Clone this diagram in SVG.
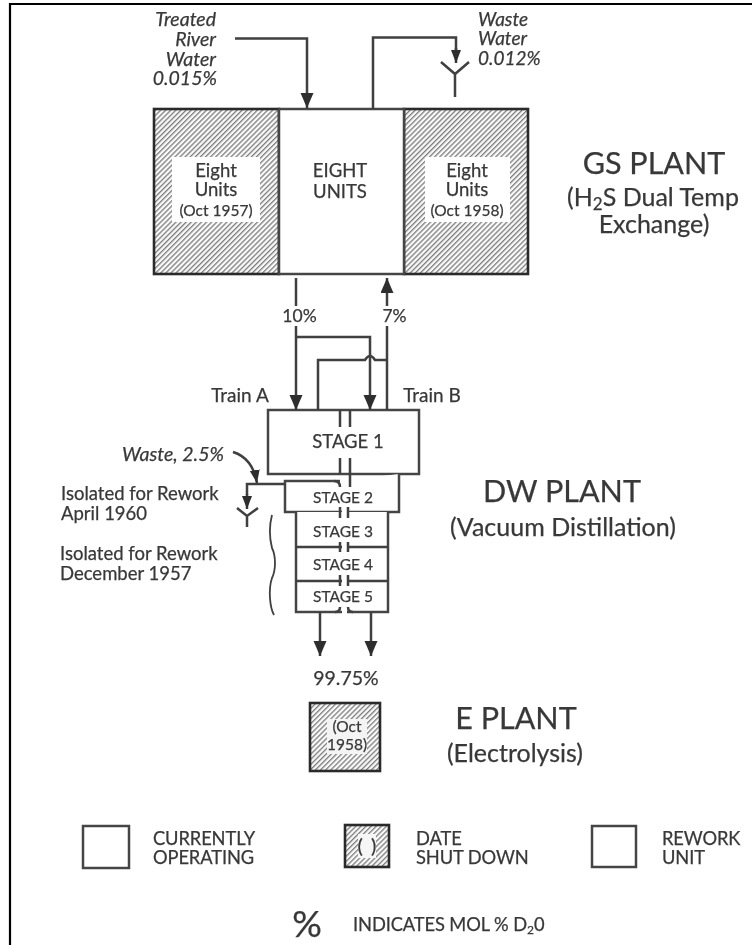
<svg xmlns="http://www.w3.org/2000/svg" width="752" height="945" viewBox="0 0 752 945">
<style>
text{font-family:"Lato","Open Sans","Liberation Sans",sans-serif;fill:#383838;stroke:#383838;stroke-width:.25;text-anchor:middle}
.i{font-style:italic;text-anchor:end;font-size:19.500px}
.is{font-style:italic;text-anchor:start;font-size:19px}
.l{text-anchor:start;font-size:18.500px}
.u{font-size:18.500px}
.s{font-size:15.500px}
.st{font-size:15.500px}
.big{font-size:30.500px}
.sub{font-size:25px}
.lg{font-size:18.300px;text-anchor:start;letter-spacing:-.1px}
.tr{font-size:19px}
.pc{font-size:17.500px}
.box{fill:#fff;stroke:#444;stroke-width:2.500}
.hb{fill:url(#hatch);stroke:#2a2a2a;stroke-width:2.600}
.ln{fill:none;stroke:#3f3f3f;stroke-width:2.500}
.ar{fill:none;stroke:#3f3f3f;stroke-width:2.500;marker-end:url(#arrow)}
.ars{fill:none;stroke:#3f3f3f;stroke-width:2.500;marker-end:url(#arrows)}
</style>
<defs>
<pattern id="hatch" width="3.600" height="3.600" patternUnits="userSpaceOnUse" patternTransform="rotate(45)">
<rect width="3.600" height="3.600" fill="#fafafa"/><rect width="1.300" height="3.600" fill="#7c7c7c"/>
</pattern>
<marker id="arrow" markerUnits="userSpaceOnUse" markerWidth="16" markerHeight="14" refX="15" refY="6.500" orient="auto">
<path d="M0,0 L15,6.500 L0,13 Z" fill="#2e2e2e"/>
</marker>
<marker id="arrows" markerUnits="userSpaceOnUse" markerWidth="14" markerHeight="12" refX="13" refY="5" orient="auto">
<path d="M0,0 L13,5 L0,10 Z" fill="#2e2e2e"/>
</marker>
<filter id="soft" x="0" y="0" width="100%" height="100%"><feGaussianBlur stdDeviation="0.7"/></filter>
</defs>
<rect width="752" height="945" fill="#fff"/>
<path d="M10,945 V4 H752" fill="none" stroke="#000" stroke-width="2.200"/>
<g filter="url(#soft)">
<g id="gs-plant">
<rect class="hb" x="154" y="109" width="125" height="165"/>
<rect class="hb" x="404" y="109" width="124" height="165"/>
<rect class="box" x="279" y="109" width="125" height="165"/>
<rect x="172" y="157" width="88" height="65" fill="#fff"/>
<rect x="425" y="157" width="85" height="65" fill="#fff"/>
<text class="u" x="216" y="177">Eight</text><text class="u" x="216" y="196">Units</text><text class="s" x="216" y="216">(Oct 1957)</text>
<text class="u" x="340" y="177">EIGHT</text><text class="u" x="340" y="198">UNITS</text>
<text class="u" x="467" y="177">Eight</text><text class="u" x="467" y="196">Units</text><text class="s" x="467" y="216">(Oct 1958)</text>
<text class="big" x="654" y="174">GS PLANT</text>
<text class="sub" x="653" y="206">(H<tspan font-size="17" dy="4">2</tspan><tspan dy="-4">S Dual Temp</tspan></text>
<text class="sub" x="654" y="233">Exchange)</text>
</g>
<g id="dw-plant">
<rect class="box" x="268" y="410" width="151" height="64"/>
<path class="box" d="M340,481 H285 V512 H399 V474"/>
<path class="box" d="M296,512 V612 H388 V512"/>
<path class="ln" d="M296,547 H388 M296,581 H388"/>
<rect x="342" y="505" width="5" height="110" fill="#fff"/>
<text style="font-size:18.500px" x="348" y="448">STAGE 1</text>
<text class="st" x="343" y="503">STAGE 2</text>
<text class="st" x="343" y="537">STAGE 3</text>
<text class="st" x="343" y="570">STAGE 4</text>
<text class="st" x="343" y="602">STAGE 5</text>
<text class="big" x="562" y="502">DW PLANT</text>
<text class="sub" x="563" y="536">(Vacuum Distillation)</text>
<text class="tr" x="240" y="402">Train A</text>
<text class="tr" x="432" y="402">Train B</text>
<text class="i" x="224" y="461">Waste, 2.5%</text>
<text class="l" x="61" y="500">Isolated for Rework</text>
<text class="l" x="61" y="520">April 1960</text>
<text class="l" x="60" y="560">Isolated for Rework</text>
<text class="l" x="60" y="580">December 1957</text>
<text style="font-size:19.500px" x="346" y="685">99.75%</text>
</g>
<g id="e-plant">
<rect class="hb" x="310" y="703" width="70" height="68"/>
<rect x="327" y="719" width="40" height="35" fill="#f4f4f4"/>
<text class="s" x="347" y="732">(Oct</text><text class="s" x="347" y="750">1958)</text>
<text class="big" x="516" y="729">E PLANT</text>
<text class="sub" x="515" y="762">(Electrolysis)</text>
</g>
<g id="legend">
<rect class="box" x="83" y="826" width="46" height="42"/>
<text class="lg" x="153" y="845">CURRENTLY</text><text class="lg" x="153" y="864">OPERATING</text>
<rect class="hb" x="345" y="825" width="44" height="42"/>
<rect x="358" y="834" width="18" height="24" fill="#f6f6f6"/>
<text x="367" y="853" style="font-size:20px;word-spacing:3px">( )</text>
<text class="lg" x="416" y="845">DATE</text><text class="lg" x="416" y="864">SHUT DOWN</text>
<rect class="box" x="592" y="826" width="44" height="41"/>
<text class="lg" x="662" y="845">REWORK</text><text class="lg" x="662" y="864">UNIT</text>
<text x="307" y="937" style="font-size:37px">%</text>
<text class="lg" x="353" y="931">INDICATES MOL % D<tspan font-size="12" dy="3">2</tspan><tspan dy="-3">0</tspan></text>
</g>
<g id="stream-labels">
<text class="i" x="216" y="26">Treated</text><text class="i" x="216" y="46">River</text><text class="i" x="216" y="66">Water</text><text class="i" x="217" y="85">0.015%</text>
<text class="is" x="478" y="26">Waste</text><text class="is" x="478" y="45">Water</text><text class="is" x="478" y="65">0.012%</text>
<text class="pc" x="299.500" y="322">10%</text>
<text class="pc" x="394.500" y="322">7%</text>
</g>
<g id="connectors">
<path class="ar" d="M235,38.500 H307 V108"/>
<path class="ln" d="M373,109 V37.500 H456 V50"/>
<path class="ars" d="M456,48 V63"/>
<path class="ln" d="M441,62 L455,74 L469,62 M455,74 V97"/>
<path class="ln" d="M296,278 V306"/>
<path class="ar" d="M296,326 V410"/>
<path class="ar" d="M296,337 H370 V410"/>
<path class="ln" d="M387,410 V326"/>
<path class="ar" d="M387,306 V278"/>
<path class="ln" d="M387,360 H375 Q370,352 365,360 H318 V410"/>
<path class="ln" d="M340,410 V427 M350,410 V427 M340,458 V474 M350,458 V487"/>
<path class="ln" d="M340,507 V518 M348,507 V518 M340,542 V552 M348,542 V552 M340,575 V586 M348,575 V586"/>
<path class="ln" d="M340,607 Q340,612 335,612 M348,607 Q348,612 353,612"/>
<path class="ln" d="M334,481 Q340,481 340,487"/>
<path class="ar" d="M320,612 V656"/>
<path class="ar" d="M371,612 V656"/>
<path class="ars" d="M233,452 C246,456 254,466 257,483"/>
<path class="ln" d="M285,484 H247 V495"/>
<path class="ars" d="M247,494 V509"/>
<path class="ln" d="M237,508 L247,516 L258,508 M247,516 V527"/>
<path class="ln" style="stroke-width:1.800" d="M272,515 C268,530 270,540 272,548 C276,556 276,570 272,578 C268,590 270,608 274,615"/>
</g>
</g>
</svg>
